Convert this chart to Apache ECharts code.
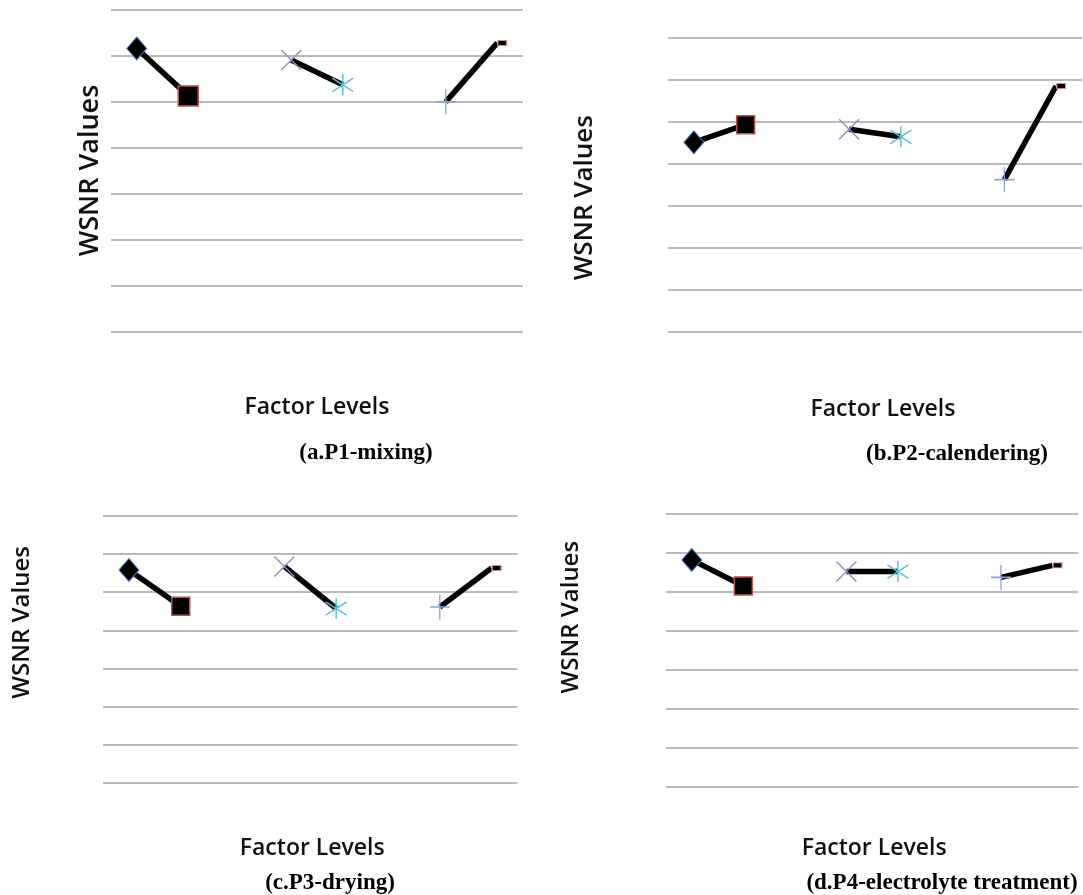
<!DOCTYPE html>
<html>
<head>
<meta charset="utf-8">
<script src="https://cdn.jsdelivr.net/npm/echarts@6/dist/echarts.min.js"></script>
<style>
html,body{margin:0;padding:0;background:#fff;}
#chart{width:1083px;height:895px;}
</style>
</head>
<body>
<div id="chart"></div>
<script>
// Factor-level categories (three factors, two levels each, with spacer slots)
const categories = ['F1-L1', 'F1-L2', '', 'F2-L1', 'F2-L2', ' ', 'F3-L1', 'F3-L2'];
const levelSlots = [[0, 1], [3, 4], [6, 7]];

// WSNR values (arbitrary units, axis 0..7, no tick labels)
const wsnrP1 = [6.15, 5.12, 5.90, 5.36, 4.99, 6.27];
const wsnrP2 = [4.51, 4.93, 4.82, 4.64, 3.62, 5.85];
const wsnrP3 = [5.58, 4.63, 5.67, 4.57, 4.61, 5.63];
const wsnrP4 = [5.82, 5.15, 5.52, 5.52, 5.37, 5.68];

const yTicks = [0, 1, 2, 3, 4, 5, 6, 7];
const captions = ['(a.P1-mixing)', '(b.P2-calendering)', '(c.P3-drying)', '(d.P4-electrolyte treatment)'];
const yName = 'WSNR Values';
const xName = 'Factor Levels';

const panels = [
  {vals: wsnrP1, grid: {left: 111, top: 9.3, width: 412, height: 322.4}, yFont: 27, yGap: 7, yPad: [0,0,0,0], xGap: 64, xPad: [0,0,0,0], cap: {x: 361, y: 437}, sq: 20},
  {vals: wsnrP2, grid: {left: 668, top: 37.7, width: 414, height: 294}, yFont: 26, yGap: 70, yPad: [0,26,0,0], xGap: 66, xPad: [0,0,0,16], cap: {x: 952, y: 438}, sq: 18},
  {vals: wsnrP3, grid: {left: 103, top: 515.7, width: 414.5, height: 267.3}, yFont: 24, yGap: 69, yPad: [0,0,0,54], xGap: 54, xPad: [0,0,0,4], cap: {x: 325, y: 867}, sq: 18},
  {vals: wsnrP4, grid: {left: 666, top: 514, width: 412.3, height: 272.3}, yFont: 24, yGap: 83, yPad: [0,0,0,66], xGap: 51, xPad: [0,0,0,4], cap: {x: 937, y: 867}, sq: 18}
];

const symX = 'path://M0,0L10,10M10,0L0,10';
const symAst = 'path://M5,0L5,10M0,1.8L10,8.2M10,1.8L0,8.2';
const symPlus = 'path://M5,0L5,10M0,5L10,5';

function markerStyles(sq) {
  return [
    [ {symbol: 'diamond', symbolSize: [20, 23], itemStyle: {color: '#000', borderColor: '#4a7ebb', borderWidth: 1}},
      {symbol: 'rect', symbolSize: sq, itemStyle: {color: '#000', borderColor: '#c0504d', borderWidth: 1.5}} ],
    [ {symbol: symX, symbolSize: 20, itemStyle: {color: 'none', borderColor: '#9d8bbd', borderWidth: 1.5}},
      {symbol: symAst, symbolSize: 21, itemStyle: {color: 'none', borderColor: '#5fbfd6', borderWidth: 1.5}} ],
    [ {symbol: symPlus, symbolSize: [20, 25], itemStyle: {color: 'none', borderColor: '#86a6d8', borderWidth: 1.5}},
      {symbol: 'rect', symbolSize: [9, 5], symbolOffset: [5, 0], itemStyle: {color: '#000', borderColor: '#e39a98', borderWidth: 1}} ]
  ];
}

const grids = [], xAxes = [], yAxes = [], series = [], titles = [];
const nameFont = {fontFamily: "'Open Sans', 'Noto Sans', sans-serif", fontWeight: 600, color: '#111'};

panels.forEach((p, i) => {
  grids.push(Object.assign({containLabel: false}, p.grid));
  xAxes.push({
    type: 'category', gridIndex: i, data: categories, boundaryGap: true,
    axisLine: {show: false}, axisTick: {show: false}, axisLabel: {show: false}, splitLine: {show: false},
    name: xName, nameLocation: 'middle', nameGap: p.xGap,
    nameTextStyle: Object.assign({fontSize: 23, lineHeight: 23, padding: p.xPad}, nameFont)
  });
  yAxes.push({
    type: 'value', gridIndex: i, min: yTicks[0], max: yTicks[yTicks.length - 1], interval: 1,
    axisLine: {show: false}, axisTick: {show: false}, axisLabel: {show: false},
    splitLine: {show: true, lineStyle: {color: '#a3a3a3', width: 1.5}},
    name: yName, nameLocation: 'middle', nameRotate: 90, nameGap: p.yGap,
    nameTextStyle: Object.assign({fontSize: p.yFont, lineHeight: p.yFont, padding: p.yPad}, nameFont)
  });
  const ms = markerStyles(p.sq);
  levelSlots.forEach((slots, k) => {
    series.push({
      type: 'line', xAxisIndex: i, yAxisIndex: i, z: 3,
      lineStyle: {color: '#000', width: 5.5},
      showAllSymbol: true, animation: false, silent: true,
      data: slots.map((c, j) => Object.assign({value: [c, p.vals[2 * k + j]]}, ms[k][j]))
    });
  });
  titles.push({
    text: captions[i], left: p.cap.x, top: p.cap.y, textAlign: 'center',
    textStyle: {fontFamily: "'Liberation Serif', 'DejaVu Serif', serif", fontWeight: 'bold', fontSize: 23, color: '#000'}
  });
});

const chart = echarts.init(document.getElementById('chart'), null, {renderer: 'canvas'});
chart.setOption({
  backgroundColor: '#ffffff',
  animation: false,
  title: titles,
  grid: grids,
  xAxis: xAxes,
  yAxis: yAxes,
  series: series
});
</script>
</body>
</html>
